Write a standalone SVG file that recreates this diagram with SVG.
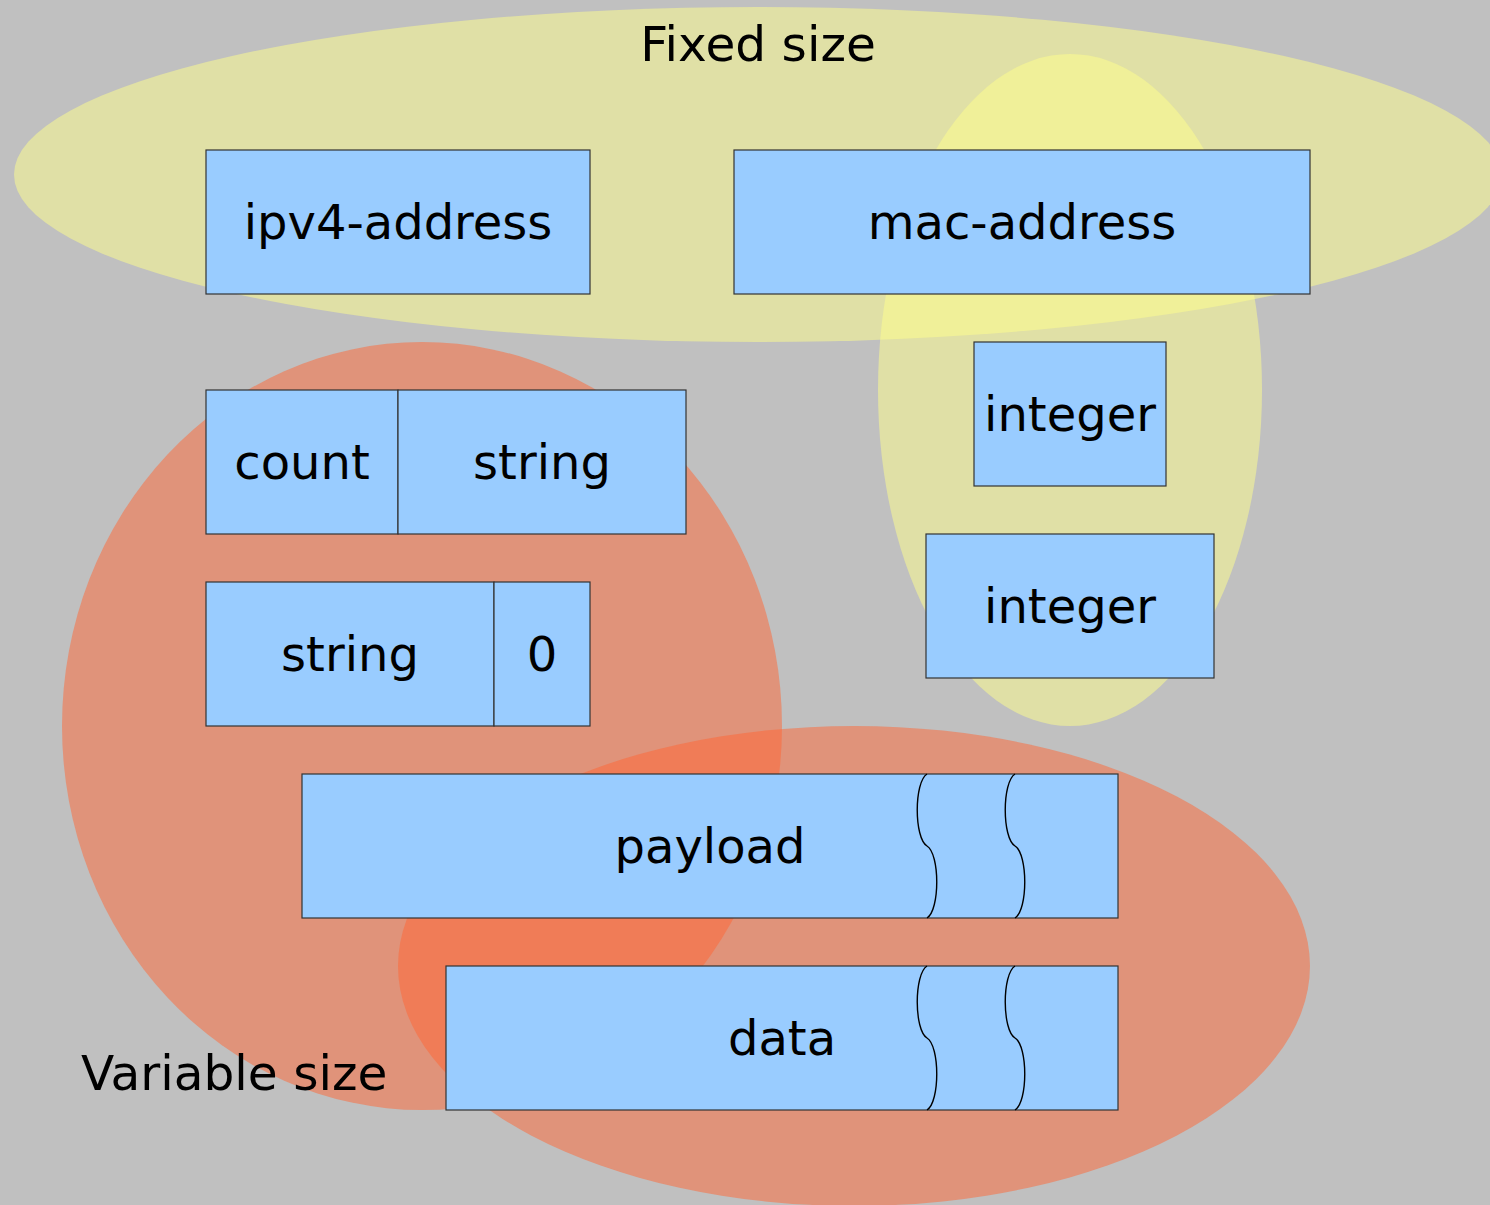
<svg xmlns="http://www.w3.org/2000/svg" width="1490" height="1205" viewBox="0 0 1490 1205">
  <style>
    .set-fixed { fill: #ffff8c; fill-opacity: 0.5; }
    .set-var { fill: #ff6633; fill-opacity: 0.5; }
    .field { fill: #99ccff; stroke: #333333; stroke-width: 1.2; }
    .cut { fill: none; stroke: #000000; stroke-width: 1.4; }
    .lbl { font-family: "DejaVu Sans", "Liberation Sans", sans-serif; font-size: 48px; fill: #000000; text-anchor: middle; }
    .title { font-family: "DejaVu Sans", "Liberation Sans", sans-serif; font-size: 48.6px; fill: #000000; }
  </style>
  <rect x="0" y="0" width="1490" height="1205" fill="#c0c0c0"/>

  <!-- size classes drawn as translucent regions -->
  <g id="regions">
    <ellipse id="fixed-wide" class="set-fixed" cx="758" cy="174.5" rx="744" ry="167.5"/>
    <ellipse id="fixed-tall" class="set-fixed" cx="1070" cy="390" rx="192" ry="336"/>
    <ellipse id="var-left" class="set-var" cx="422" cy="726" rx="360" ry="384"/>
    <ellipse id="var-bottom" class="set-var" cx="854" cy="966" rx="456" ry="240"/>
  </g>

  <text class="title" x="758" y="61" text-anchor="middle">Fixed size</text>
  <text class="title" x="81" y="1090">Variable size</text>

  <g id="ipv4-address">
    <rect class="field" x="206" y="150" width="384" height="144"/>
    <text class="lbl" x="398" y="239">ipv4-address</text>
  </g>

  <g id="mac-address">
    <rect class="field" x="734" y="150" width="576" height="144"/>
    <text class="lbl" x="1022" y="239">mac-address</text>
  </g>

  <g id="integer-small">
    <rect class="field" x="974" y="342" width="192" height="144"/>
    <text class="lbl" x="1070" y="431">integer</text>
  </g>

  <g id="integer-large">
    <rect class="field" x="926" y="534" width="288" height="144"/>
    <text class="lbl" x="1070" y="623">integer</text>
  </g>

  <g id="counted-string">
    <rect class="field" x="206" y="390" width="192" height="144"/>
    <rect class="field" x="398" y="390" width="288" height="144"/>
    <text class="lbl" x="302" y="479">count</text>
    <text class="lbl" x="542" y="479">string</text>
  </g>

  <g id="terminated-string">
    <rect class="field" x="206" y="582" width="288" height="144"/>
    <rect class="field" x="494" y="582" width="96" height="144"/>
    <text class="lbl" x="350" y="671">string</text>
    <text class="lbl" x="542" y="671">0</text>
  </g>

  <g id="payload">
    <rect class="field" x="302" y="774" width="816" height="144"/>
    <path class="cut" d="M927,774 C914,782 914,838 927,846 C940,854 940,910 927,918"/>
    <path class="cut" d="M1015,774 C1002,782 1002,838 1015,846 C1028,854 1028,910 1015,918"/>
    <text class="lbl" x="710" y="863">payload</text>
  </g>

  <g id="data">
    <rect class="field" x="446" y="966" width="672" height="144"/>
    <path class="cut" d="M927,966 C914,974 914,1030 927,1038 C940,1046 940,1102 927,1110"/>
    <path class="cut" d="M1015,966 C1002,974 1002,1030 1015,1038 C1028,1046 1028,1102 1015,1110"/>
    <text class="lbl" x="782" y="1055">data</text>
  </g>

  <!-- no connectors in this figure -->
  <g id="connectors"/>
</svg>
